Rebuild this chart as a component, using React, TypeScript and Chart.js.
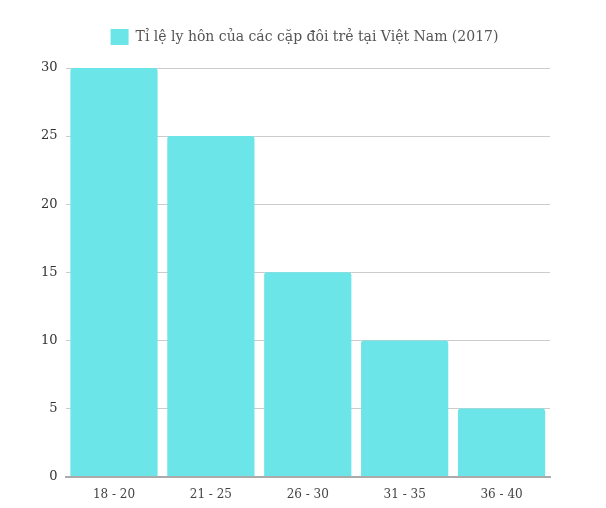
import React, { useEffect, useRef } from "react";
import { Chart, registerables } from "chart.js";

Chart.register(...registerables);

const categories = ["18 - 20", "21 - 25", "26 - 30", "31 - 35", "36 - 40"];
const values = [30, 25, 15, 10, 5];
const seriesLabel = "Tỉ lệ ly hôn của các cặp đôi trẻ tại Việt Nam (2017)";

const legendShift = {
  id: "legendShift",
  afterLayout(chart: any) {
    const lg = chart.legend;
    if (!lg) return;
    lg.left += 13;
    lg.right += 13;
    lg.top -= 13;
    lg.bottom -= 13;
  },
};

export default function App() {
  const ref = useRef<HTMLCanvasElement>(null);
  useEffect(() => {
    if (!ref.current) return;
    const font = "'DejaVu Serif', 'Liberation Serif', serif";
    const chart = new Chart(ref.current, {
      type: "bar",
      data: {
        labels: categories,
        datasets: [
          {
            label: seriesLabel,
            data: values,
            backgroundColor: "#6be5e8",
            borderWidth: 0,
            borderRadius: 3,
            borderSkipped: "bottom",
            categoryPercentage: 0.9,
            barPercentage: 1,
          },
        ],
      },
      plugins: [legendShift],
      options: {
        animation: false,
        responsive: false,
        maintainAspectRatio: false,
        layout: { padding: { left: 33, right: 56, top: 19, bottom: 3 } },
        plugins: {
          legend: {
            labels: {
              color: "#555",
              font: { family: font, size: 14 },
              boxWidth: 18,
              boxHeight: 16,
              padding: 23,
            },
          },
          tooltip: { enabled: false },
        },
        scales: {
          x: {
            grid: { display: false },
            border: { color: "#aaa", width: 2 },
            ticks: { color: "#444", font: { family: font, size: 12 } },
          },
          y: {
            min: 0,
            max: 30,
            ticks: { stepSize: 5, color: "#333", font: { family: font, size: 13 }, padding: 8 },
            grid: { color: "#ccc", drawTicks: false },
            border: { display: false },
          },
        },
      },
    });
    return () => chart.destroy();
  }, []);
  return (
    <div style={{ position: "absolute", left: 0, top: 0, width: 606, height: 508 }}>
      <canvas ref={ref} width={606} height={508} />
    </div>
  );
}
